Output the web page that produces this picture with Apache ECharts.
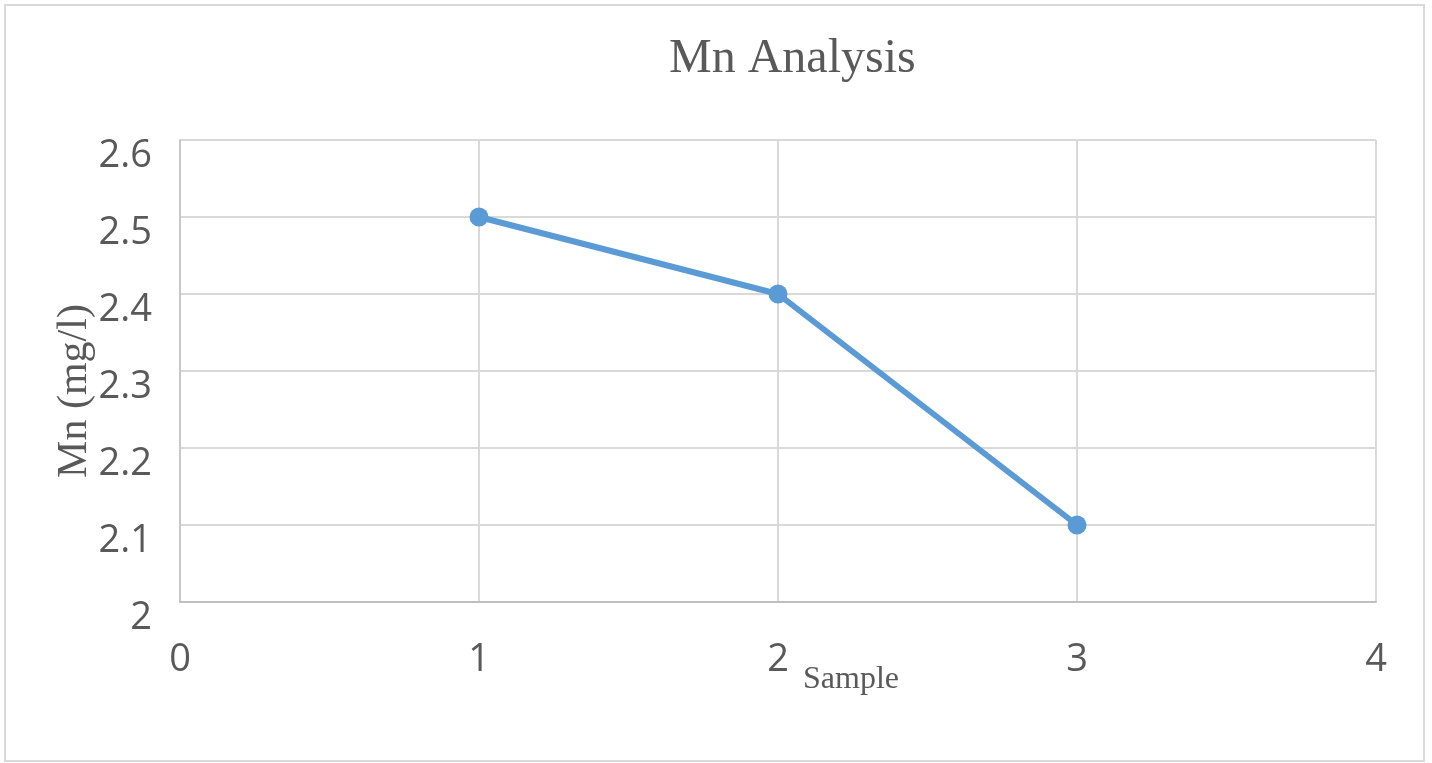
<!DOCTYPE html>
<html><head><meta charset="utf-8">
<script src="https://cdn.jsdelivr.net/npm/echarts@6/dist/echarts.min.js"></script>
<style>html,body{margin:0;padding:0;background:#fff}#c{width:1432px;height:763px}</style>
</head><body><div id="c"></div>
<script>
const titleText = "Mn Analysis";
const xName = "Sample";
const yName = "Mn (mg/l)";
const samples = [1, 2, 3];
const mnValues = [2.5, 2.4, 2.1];

const chart = echarts.init(document.getElementById('c'));
chart.setOption({
  animation: false,
  backgroundColor: '#fff',
  title: {
    text: titleText, left: 664, top: 30,
    textStyle: {fontFamily: 'Liberation Serif', fontSize: 48, fontWeight: 'normal', color: '#595959'}
  },
  grid: {left: 180, right: 56, top: 140, bottom: 161},
  graphic: [{
    type: 'rect', shape: {x: 5, y: 5, width: 1419, height: 756},
    style: {fill: 'none', stroke: '#d9d9d9', lineWidth: 2}, silent: true
  }],
  xAxis: {
    type: 'value', min: 0, max: 4, interval: 1,
    name: xName, nameLocation: 'middle', nameGap: 62, nameMoveOverlap: false,
    nameTextStyle: {fontFamily: 'Liberation Serif', fontSize: 32, color: '#595959', padding: [0, 0, 0, 146], verticalAlign: 'top'},
    axisLine: {show: true, lineStyle: {color: '#bfbfbf', width: 2}},
    axisTick: {show: false},
    axisLabel: {fontFamily: 'Open Sans', fontSize: 38, color: '#595959', margin: 39},
    splitLine: {show: true, lineStyle: {color: '#d9d9d9', width: 2}}
  },
  yAxis: {
    type: 'value', min: 2, max: 2.6, interval: 0.1,
    name: yName, nameLocation: 'middle', nameGap: 84, nameMoveOverlap: false,
    nameTextStyle: {fontFamily: 'Liberation Serif', fontSize: 42, color: '#595959', padding: [0, 40, 0, 0]},
    axisLine: {show: true, lineStyle: {color: '#c8c8c8', width: 2}},
    axisTick: {show: false},
    axisLabel: {fontFamily: 'Open Sans', fontSize: 38, color: '#595959', margin: 28,
      verticalAlign: 'top', lineHeight: 32,
      formatter: v => String(Math.round(v * 10) / 10)},
    splitLine: {show: true, lineStyle: {color: '#d9d9d9', width: 2}}
  },
  series: [{
    type: 'line',
    data: samples.map((s, i) => [s, mnValues[i]]),
    lineStyle: {color: '#5b9bd5', width: 6},
    itemStyle: {color: '#5b9bd5'},
    symbol: 'circle', symbolSize: 19
  }]
});
</script></body></html>
